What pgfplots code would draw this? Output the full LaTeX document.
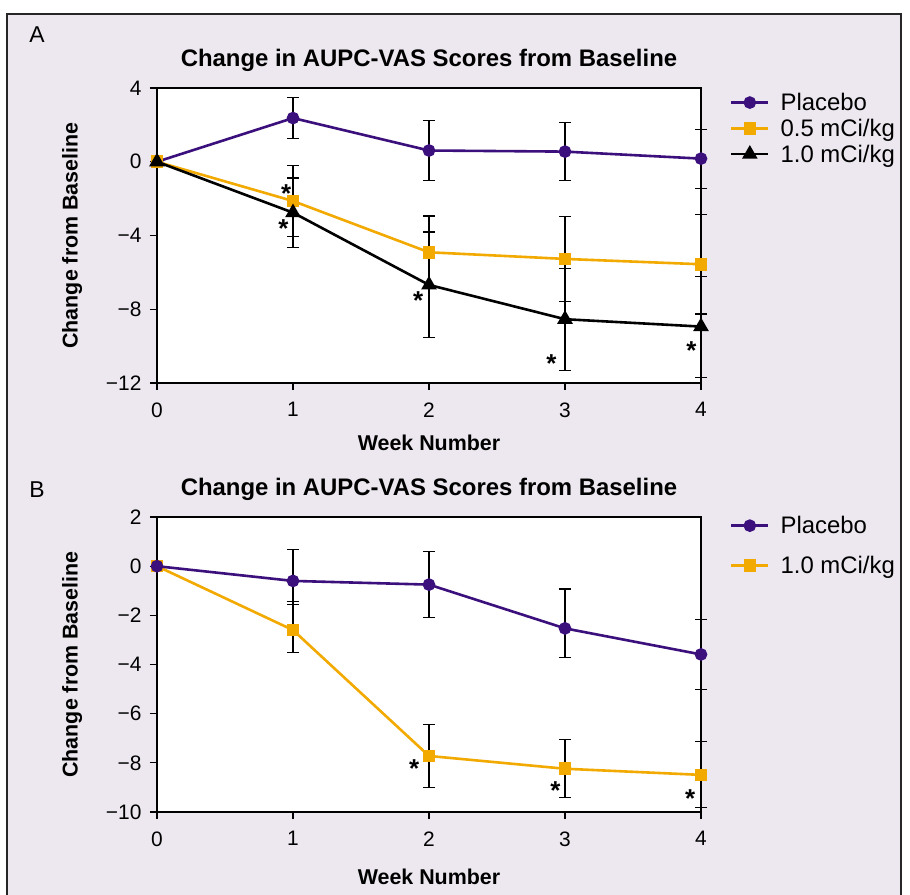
\documentclass[border=0pt]{standalone}
\usepackage{fontspec}
\setmainfont{Liberation Sans}
\usepackage{pgfplots}
\pgfplotsset{compat=1.18}
\definecolor{plum}{HTML}{3B0F7C}
\definecolor{gold}{HTML}{F2A900}
\definecolor{panel}{HTML}{EDE8F0}

\pgfplotsset{
  aupc/.style={
    scale only axis, width=544bp, height=295bp,
    xmin=0, xmax=4, xtick={0,1,2,3,4}, xticklabels={0,1,2,3,4},
    axis background/.style={fill=white},
    axis line style={line width=1.1bp},
    tick style={line width=1.1bp, black},
    tick align=outside, major tick length=7bp,
    xtick pos=bottom, ytick pos=left,
    clip=false,
    tick label style={font=\fontsize{21}{23}\selectfont},
    xticklabel style={yshift=-9bp},
    yticklabel style={xshift=-5bp},
    label style={font=\bfseries\fontsize{21.5}{24}\selectfont},
    title style={font=\bfseries\fontsize{24}{26}\selectfont, at={(0.5,1.0746)}, anchor=center, yshift=0pt},
    ylabel style={at={(axis description cs:-0.156,0.5)}, anchor=center},
    error bars/error bar style={black, line width=1.1bp},
    error bars/error mark options={rotate=90, black, mark size=6bp, line width=1.1bp},
    legend style={draw=none, fill=none, inner sep=0pt,
      font=\fontsize{24}{26}\selectfont, anchor=north west,
      cells={anchor=west}},
    legend image code/.code={\draw[mark repeat=2, mark phase=2, #1]
      plot coordinates {(0bp,0bp) (18.5bp,0bp) (37bp,0bp)};
      \path (46bp,0bp);},
  },
  pbo/.style={plum, line width=2.6bp, mark=*, mark size=5bp, mark options={fill=plum, draw=plum}},
  lowdose/.style={gold, line width=2.6bp, mark=square*, mark size=5bp, mark options={fill=gold, draw=gold}},
  highdose/.style={black, line width=2.6bp, mark=triangle*, mark size=6.5bp, mark options={fill=black, draw=black}},
}
\newcommand\sig[2]{\node[font=\bfseries\fontsize{26}{26}\selectfont, anchor=base, yshift=-15bp] at (axis cs:#1,#2) {*};}

\begin{document}
\begin{tikzpicture}
\useasboundingbox (0bp,0bp) rectangle (910bp,-895bp);
\fill[white] (0bp,0bp) rectangle (910bp,-895bp);
\fill[panel] (7bp,-14bp) rectangle (901bp,-910bp);
\draw[line width=1.5bp, black!85] (7bp,-910bp) -- (7bp,-14bp) -- (901bp,-14bp) -- (901bp,-910bp);

\node[font=\fontsize{23}{24}\selectfont] at (37bp,-35bp) {A};
\node[font=\fontsize{23}{24}\selectfont] at (37bp,-490bp) {B};

% panel A
\begin{axis}[aupc, at={(157bp,-383bp)}, anchor=south west,
  ymin=-12, ymax=4, ytick={-12,-8,-4,0,4}, yticklabels={−12,−8,−4,0,4},
  title={Change in AUPC-VAS Scores from Baseline},
  xlabel={Week Number}, ylabel={Change from Baseline},
  xlabel style={at={(axis description cs:0.5,-0.203)}, anchor=center},
  legend style={at={(1.053,0.99)}, row sep=3bp},
]
\addplot[pbo, error bars/.cd, y dir=both, y explicit] coordinates {
  (0,0) (1,2.37) +- (0,1.11) (2,0.61) +- (0,1.65) (3,0.55) +- (0,1.57) (4,0.17) +- (0,1.60)};
\addplot[lowdose, error bars/.cd, y dir=both, y explicit] coordinates {
  (0,0) (1,-2.13) +- (0,1.91) (2,-4.91) +- (0,1.97) (3,-5.27) +- (0,2.29) (4,-5.56) +- (0,2.70)};
\addplot[highdose, error bars/.cd, y dir=both, y explicit] coordinates {
  (0,0) (1,-2.76) +- (0,1.88) (2,-6.68) +- (0,2.87) (3,-8.54) +- (0,2.77) (4,-8.94) +- (0,2.74)};
\legend{Placebo, 0.5 mCi/kg, 1.0 mCi/kg}
\sig{0.95}{-1.42}
\sig{0.93}{-3.27}
\sig{1.92}{-7.22}
\sig{2.90}{-10.63}
\sig{3.93}{-9.90}
\end{axis}

% panel B
\begin{axis}[aupc, at={(157bp,-812bp)}, anchor=south west,
  ymin=-10, ymax=2, ytick={-10,-8,-6,-4,-2,0,2}, yticklabels={−10,−8,−6,−4,−2,0,2},
  title={Change in AUPC-VAS Scores from Baseline},
  xlabel={Week Number}, ylabel={Change from Baseline},
  xlabel style={at={(axis description cs:0.5,-0.2203)}, anchor=center},
  legend style={at={(1.053,1.01)}, row sep=17bp},
  reverse legend,
]
\addplot[lowdose, error bars/.cd, y dir=both, y explicit] coordinates {
  (0,0) (1,-2.60) += (0,1.16) -= (0,0.90) (2,-7.72) +- (0,1.28) (3,-8.24) +- (0,1.18) (4,-8.49) +- (0,1.34)};
\addplot[pbo, error bars/.cd, y dir=both, y explicit] coordinates {
  (0,0) (1,-0.60) += (0,1.29) -= (0,0.95) (2,-0.75) +- (0,1.35) (3,-2.53) += (0,1.60) -= (0,1.19) (4,-3.59) +- (0,1.42)};
\legend{1.0 mCi/kg, Placebo}
\sig{1.89}{-8.00}
\sig{2.93}{-8.90}
\sig{3.92}{-9.22}
\end{axis}
\end{tikzpicture}
\end{document}
